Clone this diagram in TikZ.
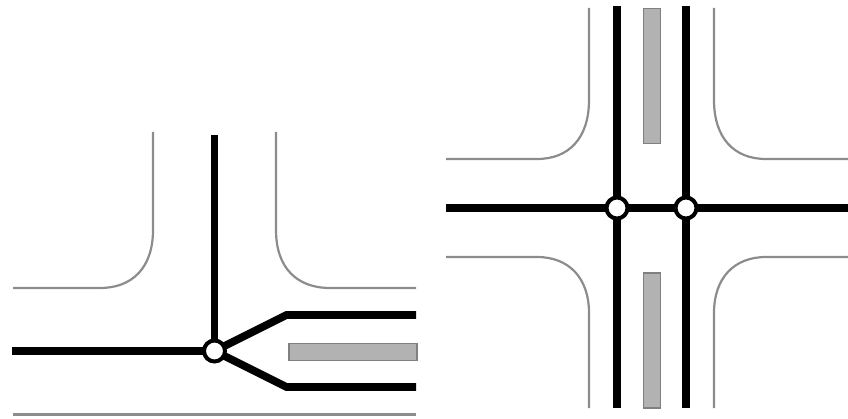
\documentclass[tikz,border=0pt]{standalone}
\tikzset{
  track/.style={line width=7.8pt,black,line join=miter},
  kerb/.style={line width=2.2pt,draw=black!45,line cap=butt},
  island/.style={draw=black!50,fill=black!30,line width=1.6pt},
  junction/.style={circle,draw=black,fill=white,line width=4pt,minimum size=21pt,inner sep=0pt,outer sep=0pt}
}
\begin{document}
\begin{tikzpicture}[x=1pt,y=-1pt]
\useasboundingbox (0,0) rectangle (848,419);
% left diagram
\draw[kerb] (153,132) -- (153,230) .. controls (153,268) and (132,288) .. (100,288) -- (13,288);
\draw[kerb] (276,132) -- (276,230) .. controls (276,268) and (297,288) .. (330,288) -- (416,288);
\draw[kerb] (13,414.5) -- (416,414.5);
\draw[island] (289,343.5) rectangle (417,360.5);
\coordinate (lw) at (12,351);
\coordinate (ln) at (214.5,135);
\coordinate (lu) at (416,315);
\coordinate (ld) at (416,387);
\coordinate (lub) at (286.5,315);
\coordinate (ldb) at (286.5,387);
\coordinate (lc) at (214.5,351);
\draw[track] (lw) -- (lc);
\draw[track] (ln) -- (lc);
\draw[track] (lc) -- (lub) -- (lu);
\draw[track] (lc) -- (ldb) -- (ld);
\node[junction] (ja) at (lc) {};
% right diagram
\draw[kerb] (589,8) -- (589,100) .. controls (589,138) and (569,159) .. (537,159) -- (446,159);
\draw[kerb] (714,8) -- (714,100) .. controls (714,138) and (734,159) .. (766,159) -- (848,159);
\draw[kerb] (589,408) -- (589,313) .. controls (589,278) and (569,257) .. (537,257) -- (446,257);
\draw[kerb] (714,408) -- (714,313) .. controls (714,278) and (734,257) .. (766,257) -- (848,257);
\draw[island] (643.5,8.5) rectangle (660.5,143.5);
\draw[island] (643.5,273) rectangle (660.5,408);
\coordinate (rw) at (446,208);
\coordinate (re) at (848,208);
\coordinate (rn1) at (617,6);
\coordinate (rs1) at (617,408);
\coordinate (rn2) at (686,6);
\coordinate (rs2) at (686,408);
\coordinate (rc1) at (617,208);
\coordinate (rc2) at (686,208);
\draw[track] (rw) -- (rc1) -- (rc2) -- (re);
\draw[track] (rn1) -- (rs1);
\draw[track] (rn2) -- (rs2);
\node[junction] (jb) at (rc1) {};
\node[junction] (jc) at (rc2) {};
\end{tikzpicture}
\end{document}
